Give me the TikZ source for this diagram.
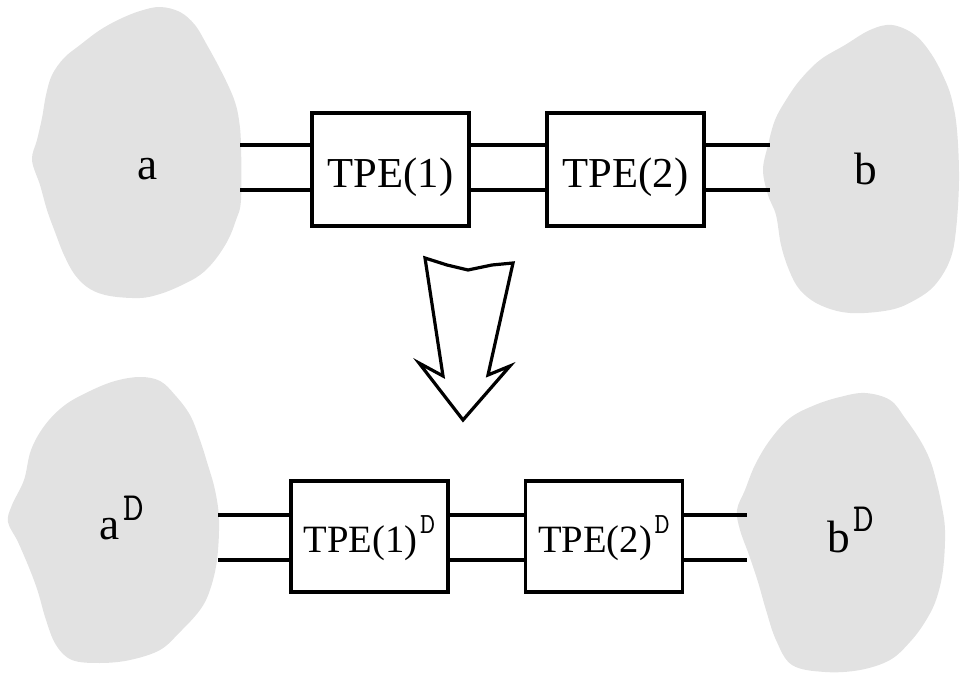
\documentclass[tikz,border=0pt]{standalone}
\usepackage{fontspec}
\newfontfamily\tms{Liberation Serif}
\newcommand\dmono{\ttfamily}
\definecolor{blobgray}{RGB}{226,226,226}
\begin{document}
\begin{tikzpicture}[x=0.75pt,y=-0.75pt,
  blob/.style={fill=blobgray,draw=none},
  tpebox/.style={draw,line width=2.7pt,inner sep=0pt,minimum width=117.5pt},
  wire/.style={line width=2.7pt},
  lbl/.style={inner sep=0pt,font=\tms\fontsize{34}{34}\selectfont},
  supD/.style={inner sep=0pt,font=\dmono\fontsize{30}{30}\selectfont}]
\useasboundingbox (0,0) rectangle (960,680);
% blobs
\fill[blob] plot[smooth cycle,tension=0.6] coordinates {(160,7) (180,12) (195,25) (207,45) (218,65) (228,85) (235,102) (239,120) (241,145) (241,200) (236,220) (228,240) (215,260) (200,275) (180,286) (160,294) (140,298) (110,296) (90,289) (75,275) (64,255) (55,232) (47,210) (40,185) (32,160) (37,140) (42,118) (46,95) (52,75) (64,58) (80,45) (100,30) (120,19) (140,11)};
\fill[blob] plot[smooth cycle,tension=0.6] coordinates {(892,25) (915,35) (932,55) (945,80) (952,100) (957,130) (959,180) (956,230) (950,260) (935,285) (915,300) (890,310) (850,313) (820,305) (800,290) (789,270) (781,245) (776,215) (768,195) (763,170) (768,145) (775,120) (786,100) (800,80) (820,60) (845,45) (870,30)};
\fill[blob] plot[smooth cycle,tension=0.6] coordinates {(140,377) (160,381) (175,395) (190,415) (200,440) (207,462) (215,490) (219,520) (217,560) (210,590) (200,610) (180,632) (160,650) (130,660) (100,663) (72,660) (56,645) (46,620) (38,592) (30,570) (18,542) (8,522) (12,505) (24,480) (31,450) (45,425) (65,405) (90,391) (115,381)};
\fill[blob] plot[smooth cycle,tension=0.6] coordinates {(865,393) (890,400) (905,418) (920,440) (930,460) (936,480) (941,502) (945,530) (943,570) (936,600) (925,622) (910,642) (890,660) (860,670) (825,672) (792,665) (776,640) (766,610) (758,582) (749,555) (740,530) (737,510) (745,490) (755,465) (770,440) (790,418) (815,405) (840,397)};
% top row
\node[tpebox,minimum height=84.75pt,text height=56pt,text depth=28.75pt,font=\tms\fontsize{32}{32}\selectfont] (t1) at (390.5,169.5) {TPE(1)};
\node[tpebox,minimum height=84.75pt,text height=56pt,text depth=28.75pt,font=\tms\fontsize{32}{32}\selectfont] (t2) at (625.5,169.5) {TPE(2)};
\coordinate (aR1) at (240,145); \coordinate (aR2) at (240,190);
\coordinate (bL1) at (770,145); \coordinate (bL2) at (770,190);
\draw[wire] (aR1) -- (aR1 -| t1.west);
\draw[wire] (aR2) -- (aR2 -| t1.west);
\draw[wire] (aR1 -| t1.east) -- (aR1 -| t2.west);
\draw[wire] (aR2 -| t1.east) -- (aR2 -| t2.west);
\draw[wire] (bL1 -| t2.east) -- (bL1);
\draw[wire] (bL2 -| t2.east) -- (bL2);
\node[lbl,anchor=base] (la) at (147.5,180) {a};
\node[lbl,anchor=base] (lb) at (866,185) {b};
% arrow
\draw[line width=2.4pt,line join=miter,fill=white] (425,258) -- (447,265) -- (468,270) -- (492,265) -- (513,263) -- (488,375) -- (510,366) -- (463,420) -- (419,363) -- (443,376) -- cycle;
% bottom row
\node[tpebox,minimum height=83.25pt,text height=53.25pt,text depth=30pt,font=\tms\fontsize{29}{29}\selectfont] (d1) at (369.5,536.5) {TPE(1)\hspace{2pt}\raisebox{14pt}{\dmono\fontsize{22}{22}\selectfont D}};
\node[tpebox,minimum height=83.25pt,text height=53.25pt,text depth=30pt,font=\tms\fontsize{29}{29}\selectfont] (d2) at (604,536.5) {TPE(2)\hspace{2pt}\raisebox{14pt}{\dmono\fontsize{22}{22}\selectfont D}};
\coordinate (cR1) at (218,515); \coordinate (cR2) at (218,560);
\coordinate (eL1) at (747,515); \coordinate (eL2) at (747,560);
\draw[wire] (cR1) -- (cR1 -| d1.west);
\draw[wire] (cR2) -- (cR2 -| d1.west);
\draw[wire] (cR1 -| d1.east) -- (cR1 -| d2.west);
\draw[wire] (cR2 -| d1.east) -- (cR2 -| d2.west);
\draw[wire] (eL1 -| d2.east) -- (eL1);
\draw[wire] (eL2 -| d2.east) -- (eL2);
\node[lbl,anchor=base] (laD) at (110,539) {a};
\node[supD,anchor=base west] (laDs) at (123,521) {D};
\node[lbl,anchor=base] (lbD) at (839,552) {b};
\node[supD,anchor=base west] (lbDs) at (853,532) {D};
\end{tikzpicture}
\end{document}
